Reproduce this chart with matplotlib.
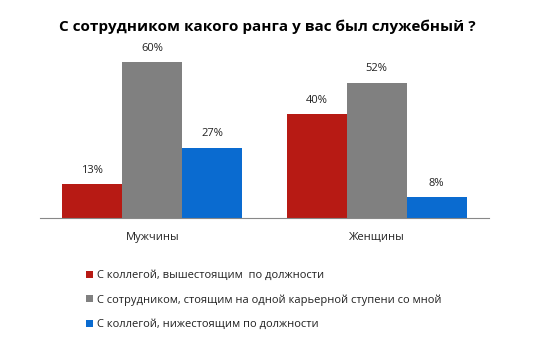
import matplotlib.pyplot as plt
import numpy as np

plt.rcParams['font.family'] = ['Open Sans', 'DejaVu Sans']

categories = ['Мужчины', 'Женщины']
series_names = ['С коллегой, вышестоящим  по должности',
                'С сотрудником, стоящим на одной карьерной ступени со мной',
                'С коллегой, нижестоящим по должности']
values = [[13, 40], [60, 52], [27, 8]]
colors = ['#B71A14', '#808080', '#0A6BD0']

fig = plt.figure(figsize=(5.34, 3.41), dpi=100)
ax = fig.add_axes([40/534, 123/341, 449/534, 182/341])

x = np.arange(len(categories))
w = 0.267
handles = []
for i, (name, vals, c) in enumerate(zip(series_names, values, colors)):
    b = ax.bar(x + (i - 1) * w, vals, w, color=c, label=name)
    handles.append(b)
    for xi, v in zip(x + (i - 1) * w, vals):
        ax.annotate('%d%%' % v, (xi, v), xytext=(0, 10), textcoords='offset points',
                    ha='center', va='center', fontsize=8, color='#222222')

ax.set_xlim(-0.5, 1.5)
ax.set_ylim(0, 70)
ax.set_yticks([])
ax.set_xticks(x)
ax.set_xticklabels(categories, fontsize=8, color='#222222')
ax.tick_params(axis='x', length=0, pad=10)
for s in ['top', 'right', 'left']:
    ax.spines[s].set_visible(False)
ax.spines['bottom'].set_color('#888888')

fig.text(0.5, 1 - 27/341, 'С сотрудником какого ранга у вас был служебный ?',
         ha='center', va='center', fontsize=11, fontweight='bold')

leg = fig.legend(handles=handles, loc='upper left', bbox_to_anchor=(76/534, 1 - 260/341),
                 frameon=False, fontsize=8, handlelength=0.6, handleheight=0.6,
                 handletextpad=0.4, labelspacing=1.2)
for t in leg.get_texts():
    t.set_color('#222222')

fig.savefig('out.png', dpi=100)
